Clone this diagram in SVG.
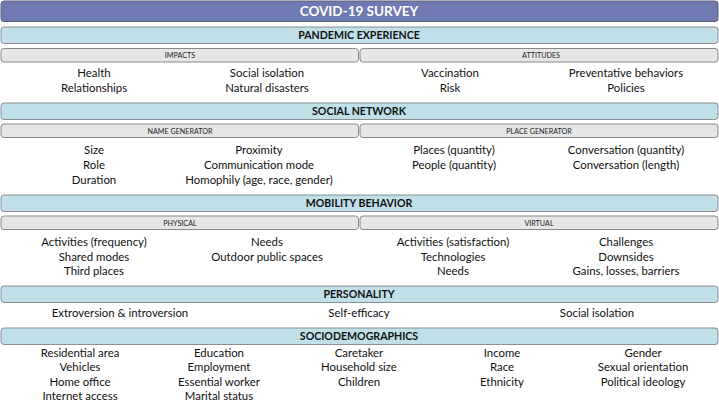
<svg xmlns="http://www.w3.org/2000/svg" width="719" height="401" viewBox="0 0 719 401">
<style>
.title{fill:#6f7ab2;stroke:#5b6070;stroke-width:1}
.hdr{fill:#c0dfe9;stroke:#8a8f93;stroke-width:1}
.sub{fill:#e6e6e6;stroke:#8a8a8a;stroke-width:1}
text{font-family:Lato,"Liberation Sans",sans-serif;text-anchor:middle}
.tt{fill:#fff;font-weight:bold;font-size:13.5px}
.ht{fill:#111;font-weight:bold;font-size:10.6px}
.st{fill:#222;font-size:7.2px}
.it{fill:#111;font-size:11.4px}
</style>
<rect width="719" height="401" fill="#fff"/>
<g id="title">
<rect class="title" x="1" y="1" width="717" height="20.5" rx="3"/>
<text class="tt" x="359" y="16.3">COVID-19 SURVEY</text>
</g>
<g id="pandemic-experience">
<rect class="hdr" x="1" y="27" width="717" height="16.5" rx="3"/>
<text class="ht" x="359" y="39">PANDEMIC EXPERIENCE</text>
<rect class="sub" x="1" y="48.5" width="357.5" height="13.5" rx="3"/>
<text class="st" x="180" y="58">IMPACTS</text>
<rect class="sub" x="360" y="48.5" width="358" height="13.5" rx="3"/>
<text class="st" x="541" y="58">ATTITUDES</text>
<text class="it" x="94" y="77">Health</text>
<text class="it" x="94" y="92">Relationships</text>
<text class="it" x="267" y="77">Social isolation</text>
<text class="it" x="267" y="92">Natural disasters</text>
<text class="it" x="450" y="77">Vaccination</text>
<text class="it" x="450" y="92">Risk</text>
<text class="it" x="626" y="77">Preventative behaviors</text>
<text class="it" x="626" y="92">Policies</text>
</g>
<g id="social-network">
<rect class="hdr" x="1" y="103" width="717" height="16.5" rx="3"/>
<text class="ht" x="359" y="115">SOCIAL NETWORK</text>
<rect class="sub" x="1" y="124" width="357.5" height="13.5" rx="3"/>
<text class="st" x="180" y="133.5">NAME GENERATOR</text>
<rect class="sub" x="360" y="124" width="358" height="13.5" rx="3"/>
<text class="st" x="539" y="133.5">PLACE GENERATOR</text>
<text class="it" x="94" y="154">Size</text>
<text class="it" x="94" y="169">Role</text>
<text class="it" x="94" y="184">Duration</text>
<text class="it" x="259" y="154">Proximity</text>
<text class="it" x="259" y="169">Communication mode</text>
<text class="it" x="259" y="184">Homophily (age, race, gender)</text>
<text class="it" x="454" y="154">Places (quantity)</text>
<text class="it" x="454" y="169">People (quantity)</text>
<text class="it" x="626" y="154">Conversation (quantity)</text>
<text class="it" x="626" y="169">Conversation (length)</text>
</g>
<g id="mobility-behavior">
<rect class="hdr" x="1" y="195" width="717" height="16.5" rx="3"/>
<text class="ht" x="359" y="207">MOBILITY BEHAVIOR</text>
<rect class="sub" x="1" y="216" width="357.5" height="13.5" rx="3"/>
<text class="st" x="180" y="225.5">PHYSICAL</text>
<rect class="sub" x="360" y="216" width="358" height="13.5" rx="3"/>
<text class="st" x="539" y="225.5">VIRTUAL</text>
<text class="it" x="94" y="245.5">Activities (frequency)</text>
<text class="it" x="94" y="260.5">Shared modes</text>
<text class="it" x="94" y="275">Third places</text>
<text class="it" x="267" y="245.5">Needs</text>
<text class="it" x="267" y="260.5">Outdoor public spaces</text>
<text class="it" x="453" y="245.5">Activities (satisfaction)</text>
<text class="it" x="453" y="260.5">Technologies</text>
<text class="it" x="453" y="275">Needs</text>
<text class="it" x="626" y="245.5">Challenges</text>
<text class="it" x="626" y="260.5">Downsides</text>
<text class="it" x="626" y="275">Gains, losses, barriers</text>
</g>
<g id="personality">
<rect class="hdr" x="1" y="286" width="717" height="16.5" rx="3"/>
<text class="ht" x="359" y="298">PERSONALITY</text>
<text class="it" x="120" y="317">Extroversion &amp; introversion</text>
<text class="it" x="359" y="317">Self-efficacy</text>
<text class="it" x="597" y="317">Social isolation</text>
</g>
<g id="sociodemographics">
<rect class="hdr" x="1" y="328" width="717" height="16.5" rx="3"/>
<text class="ht" x="359" y="340">SOCIODEMOGRAPHICS</text>
<text class="it" x="80" y="356.5">Residential area</text>
<text class="it" x="80" y="371">Vehicles</text>
<text class="it" x="80" y="385.5">Home office</text>
<text class="it" x="80" y="400">Internet access</text>
<text class="it" x="219" y="356.5">Education</text>
<text class="it" x="219" y="371">Employment</text>
<text class="it" x="219" y="385.5">Essential worker</text>
<text class="it" x="219" y="400">Marital status</text>
<text class="it" x="359" y="356.5">Caretaker</text>
<text class="it" x="359" y="371">Household size</text>
<text class="it" x="359" y="385.5">Children</text>
<text class="it" x="502" y="356.5">Income</text>
<text class="it" x="502" y="371">Race</text>
<text class="it" x="502" y="385.5">Ethnicity</text>
<text class="it" x="643" y="356.5">Gender</text>
<text class="it" x="643" y="371">Sexual orientation</text>
<text class="it" x="643" y="385.5">Political ideology</text>
</g>
<g id="connectors"></g>
</svg>
